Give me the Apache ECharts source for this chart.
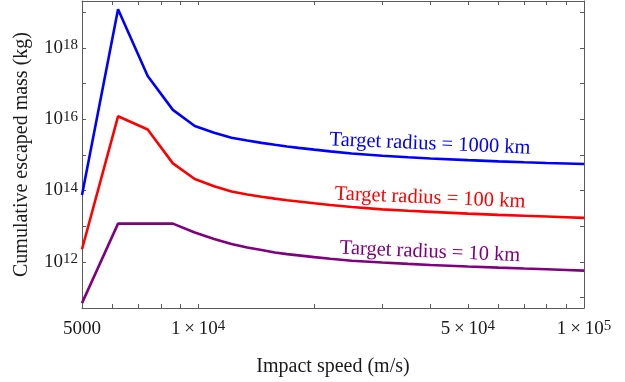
<!DOCTYPE html>
<html><head><meta charset="utf-8">
<script src="https://cdn.jsdelivr.net/npm/echarts@6/dist/echarts.min.js"></script>
<style>html,body{margin:0;padding:0;background:#fff}#c{width:625px;height:382px}</style>
</head><body><div id="c"></div>
<script>
// Impact speeds (m/s)
const speeds = [5000, 6200, 7400, 8600, 9800, 11000, 12200, 13400, 14600, 15800, 17000, 18200, 20000, 22000, 25000, 30000, 35000, 40000, 50000, 60000, 70000, 80000, 90000, 100000];
// Cumulative escaped mass, given as log10 of the mass in kg
const log10Mass1000km = [13.87, 19.08, 17.21, 16.26, 15.81, 15.62, 15.48, 15.40, 15.335, 15.28, 15.235, 15.195, 15.145, 15.095, 15.035, 14.975, 14.93, 14.895, 14.85, 14.815, 14.79, 14.77, 14.755, 14.74];
const log10Mass100km  = [12.35, 16.08, 15.71, 14.76, 14.32, 14.12, 13.97, 13.885, 13.825, 13.77, 13.725, 13.69, 13.64, 13.59, 13.535, 13.47, 13.43, 13.40, 13.35, 13.315, 13.29, 13.27, 13.25, 13.23];
const log10Mass10km   = [10.84, 13.07, 13.07, 13.07, 12.82, 12.64, 12.50, 12.40, 12.33, 12.26, 12.215, 12.18, 12.13, 12.085, 12.03, 11.98, 11.94, 11.91, 11.865, 11.835, 11.81, 11.79, 11.77, 11.75];
const seriesLabels = ['Target radius = 1000 km', 'Target radius = 100 km', 'Target radius = 10 km'];
const seriesColors = ['#0000ff', '#ff0000', '#800080'];

const xTickValues = [5000, 6000, 7000, 8000, 9000, 10000, 20000, 30000, 40000, 50000, 60000, 70000, 80000, 90000, 100000];
const xLabelValues = [5000, 10000, 50000, 100000];
const xLabelBase = ['5000', '1\u2009\u00d7\u200910', '5\u2009\u00d7\u200910', '1\u2009\u00d7\u200910'];
const xLabelSup = ['', '4', '4', '5'];
const yTickExponents = [11, 12, 13, 14, 15, 16, 17, 18, 19];
const yLabelExponents = [12, 14, 16, 18];

const FONT = '"Liberation Serif", "DejaVu Serif", serif';
const TXT = '#1a1a1a';
const AX = '#5a5a5a';
const L = Math.log10;

const rich = {
  n: {fontSize: 19, fontFamily: FONT, color: TXT, lineHeight: 20},
  s: {fontSize: 15, fontFamily: FONT, color: TXT, lineHeight: 14, verticalAlign: 'top'}
};

const xMin = L(5000), xMax = L(100000);
const yMin = 10.703, yMax = 19.314;

function xAx(pos, withLabels) {
  return {
    type: 'value', position: pos, min: xMin, max: xMax,
    axisLine: {onZero: false, lineStyle: {color: AX, width: 1}},
    axisTick: {inside: true, length: 4, customValues: xTickValues.map(L), lineStyle: {color: AX}},
    axisLabel: withLabels ? {
      customValues: xLabelValues.map(L), margin: 11,
      formatter: function (v) {
        for (let i = 0; i < xLabelValues.length; i++) {
          if (Math.abs(L(xLabelValues[i]) - v) < 1e-6) {
            return '{n|' + xLabelBase[i] + '}' + (xLabelSup[i] ? '{s|' + xLabelSup[i] + '}' : '');
          }
        }
        return '';
      },
      rich: rich
    } : {show: false},
    splitLine: {show: false},
    name: withLabels ? 'Impact speed (m/s)' : '', nameLocation: 'middle', nameGap: 49,
    nameTextStyle: {fontSize: 20, fontFamily: FONT, color: TXT}
  };
}
function yAx(pos, withLabels) {
  return {
    type: 'value', position: pos, min: yMin, max: yMax,
    axisLine: {onZero: false, lineStyle: {color: AX, width: 1}},
    axisTick: {inside: true, length: 4, customValues: yTickExponents, lineStyle: {color: AX}},
    axisLabel: withLabels ? {
      customValues: yLabelExponents, margin: 4,
      formatter: function (v) { return '{n|10}{s|' + Math.round(v) + '}'; },
      rich: rich
    } : {show: false},
    splitLine: {show: false},
    name: withLabels ? 'Cumulative escaped mass (kg)' : '', nameLocation: 'middle', nameGap: 50,
    nameTextStyle: {fontSize: 20, fontFamily: FONT, color: TXT}
  };
}

const logMasses = [log10Mass1000km, log10Mass100km, log10Mass10km];
const chart = echarts.init(document.getElementById('c'), null, {renderer: 'canvas'});
chart.setOption({
  animation: false,
  backgroundColor: '#ffffff',
  grid: {left: 82, right: 41, top: 1, bottom: 71, containLabel: false},
  xAxis: [xAx('bottom', true), xAx('top', false)],
  yAxis: [yAx('left', true), yAx('right', false)],
  series: logMasses.map((m, k) => ({
    type: 'line', name: seriesLabels[k], xAxisIndex: 0, yAxisIndex: 0,
    showSymbol: false, symbol: 'none', smooth: false,
    lineStyle: {color: seriesColors[k], width: 2.6},
    data: speeds.map((s, i) => [L(s), m[i]])
  })),
  graphic: [
    {pos: [430, 144]}, {pos: [430, 198]}, {pos: [430, 252]}
  ].map((g, k) => ({
    type: 'text', x: g.pos[0], y: g.pos[1], rotation: -0.042,
    style: {text: seriesLabels[k], fill: seriesColors[k], font: '20.5px ' + FONT,
      align: 'center', verticalAlign: 'middle', textAlign: 'center', textVerticalAlign: 'middle'}
  }))
});
</script></body></html>
